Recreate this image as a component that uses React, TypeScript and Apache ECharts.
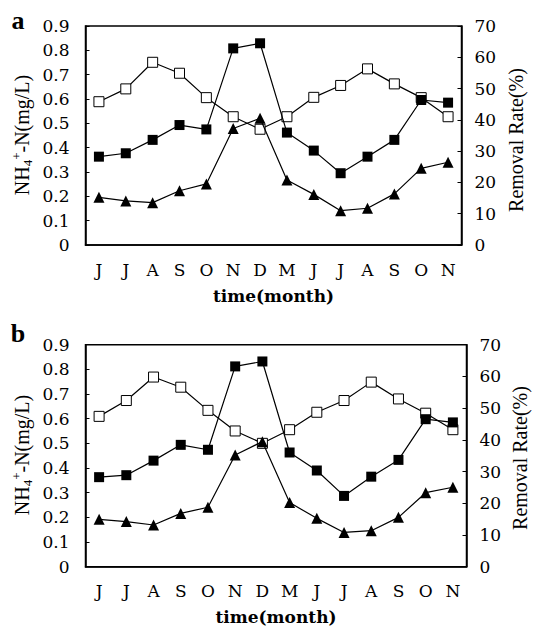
import React, { useEffect, useRef } from "react";
import * as echarts from "echarts";

const months = ["J", "J", "A", "S", "O", "N", "D", "M", "J", "J", "A", "S", "O", "N"];
const leftTicks = [0, 0.1, 0.2, 0.3, 0.4, 0.5, 0.6, 0.7, 0.8, 0.9];
const rightTicks = [0, 10, 20, 30, 40, 50, 60, 70];

// Panel a
const aInfluent = [0.363, 0.377, 0.432, 0.493, 0.475, 0.808, 0.829, 0.462, 0.388, 0.295, 0.363, 0.432, 0.596, 0.585];
const aRemoval = [45.8, 49.9, 58.4, 54.9, 47.1, 41.0, 37.0, 41.0, 47.2, 51.0, 56.3, 51.5, 47.1, 41.0];
const aEffluent = [0.196, 0.181, 0.174, 0.223, 0.251, 0.479, 0.521, 0.267, 0.208, 0.141, 0.151, 0.21, 0.315, 0.34];

// Panel b
const bInfluent = [0.363, 0.371, 0.43, 0.494, 0.474, 0.812, 0.832, 0.463, 0.39, 0.287, 0.365, 0.433, 0.598, 0.585];
const bRemoval = [47.4, 52.4, 59.8, 56.6, 49.3, 42.8, 38.9, 43.2, 48.7, 52.4, 58.2, 52.9, 48.4, 43.2];
const bEffluent = [0.192, 0.183, 0.169, 0.216, 0.241, 0.453, 0.507, 0.26, 0.196, 0.139, 0.146, 0.2, 0.3, 0.322];

const HFONT = "DejaVu Serif";
const VFONT = "Liberation Serif";

export default function App() {
  const ref = useRef<HTMLDivElement>(null);
  useEffect(() => {
    document.body.style.margin = "0";
    if (!ref.current) return;
    const chart = echarts.init(ref.current, undefined, { renderer: "svg" });

    const grids = [
      { left: 85.5, top: 26, width: 376, height: 219 },
      { left: 85.5, top: 344.7, width: 381, height: 222 },
    ];

    const xAxis = grids.map((_, i) => ({
      type: "category",
      gridIndex: i,
      data: months,
      boundaryGap: true,
      name: "time(month)",
      nameLocation: "middle",
      nameGap: 42,
      nameTextStyle: { fontFamily: HFONT, fontSize: 17, fontWeight: "bold", color: "#000" },
      axisLine: { lineStyle: { color: "#000", width: 1.5 } },
      axisTick: { inside: true, length: 4, interval: 0, lineStyle: { color: "#000", width: 1 } },
      axisLabel: { margin: 16, fontFamily: HFONT, fontSize: 17, color: "#000", interval: 0 },
      splitLine: { show: false },
    }));

    const yAxis: any[] = [];
    grids.forEach((_, i) => {
      yAxis.push({
        type: "value",
        gridIndex: i,
        position: "left",
        min: leftTicks[0],
        max: leftTicks[leftTicks.length - 1],
        interval: 0.1,
        axisLine: { show: true, lineStyle: { color: "#000", width: 1.5 } },
        axisTick: { show: true, inside: true, length: 4, lineStyle: { color: "#000", width: 1 } },
        axisLabel: {
          margin: 16,
          fontFamily: HFONT,
          fontSize: 17,
          color: "#000",
          formatter: (v: number) => (v === 0 ? "0" : v.toFixed(1)),
        },
        splitLine: { show: false },
      });
      yAxis.push({
        type: "value",
        gridIndex: i,
        position: "right",
        min: rightTicks[0],
        max: rightTicks[rightTicks.length - 1],
        interval: 10,
        axisLine: { show: true, lineStyle: { color: "#000", width: 1.5 } },
        axisTick: { show: true, inside: true, length: 4, lineStyle: { color: "#000", width: 1 } },
        axisLabel: { margin: 13, fontFamily: HFONT, fontSize: 17, color: "#000" },
        splitLine: { show: false },
      });
    });

    const mk = (data: number[], xi: number, yi: number, kind: "fill" | "open" | "tri") => ({
      type: "line",
      xAxisIndex: xi,
      yAxisIndex: yi,
      data,
      symbol: kind === "tri" ? "triangle" : "rect",
      symbolSize: kind === "tri" ? 11 : 10,
      lineStyle: { color: "#000", width: 1.2 },
      itemStyle:
        kind === "open"
          ? { color: "#fff", borderColor: "#000", borderWidth: 1 }
          : { color: "#000", borderColor: "#000", borderWidth: 0 },
      showSymbol: true,
      z: kind === "open" ? 3 : 4,
    });

    const series = [
      mk(aRemoval, 0, 1, "open"),
      mk(aInfluent, 0, 0, "fill"),
      mk(aEffluent, 0, 0, "tri"),
      mk(bRemoval, 1, 3, "open"),
      mk(bInfluent, 1, 2, "fill"),
      mk(bEffluent, 1, 2, "tri"),
    ];

    const nhText = (x: number, y: number) => ({
      type: "text",
      x,
      y,
      rotation: Math.PI / 2,
      style: {
        text: "NH{sub|4}{sup|+}-N(mg/L)",
        fill: "#000",
        font: `20px "${VFONT}"`,
        fontFamily: VFONT,
        fontSize: 20,
        textAlign: "center",
        textVerticalAlign: "middle",
        align: "center",
        verticalAlign: "middle",
        lineHeight: 24,
        rich: {
          sub: { fontFamily: VFONT, fontSize: 13, lineHeight: 13, verticalAlign: "bottom", fill: "#000" },
          sup: { fontFamily: VFONT, fontSize: 13, lineHeight: 13, verticalAlign: "top", fill: "#000" },
        },
      },
    });
    const rrText = (x: number, y: number) => ({
      type: "text",
      x,
      y,
      rotation: Math.PI / 2,
      style: {
        text: "Removal Rate(%)",
        fill: "#000",
        font: `20px "${VFONT}"`,
        fontFamily: VFONT,
        fontSize: 20,
        textAlign: "center",
        textVerticalAlign: "middle",
        align: "center",
        verticalAlign: "middle",
      },
    });
    const letter = (t: string, x: number, y: number) => ({
      type: "text",
      x,
      y,
      style: {
        text: t,
        fill: "#000",
        font: `bold 26px "${VFONT}"`,
        fontFamily: VFONT,
        fontSize: 26,
        fontWeight: "bold",
        textAlign: "center",
        textVerticalAlign: "middle",
        align: "center",
        verticalAlign: "middle",
      },
    });

    chart.setOption({
      animation: false,
      backgroundColor: "#fff",
      grid: grids.map((g) => ({ ...g, show: true, borderColor: "#000", borderWidth: 1.5, backgroundColor: "transparent" })),
      xAxis,
      yAxis,
      series,
      graphic: [
        letter("a", 18, 20),
        letter("b", 18, 333),
        nhText(22, 135),
        rrText(516, 140),
        nhText(22, 455),
        rrText(520, 458),
      ],
    });
    return () => chart.dispose();
  }, []);
  return <div ref={ref} style={{ width: 534, height: 628 }} />;
}
